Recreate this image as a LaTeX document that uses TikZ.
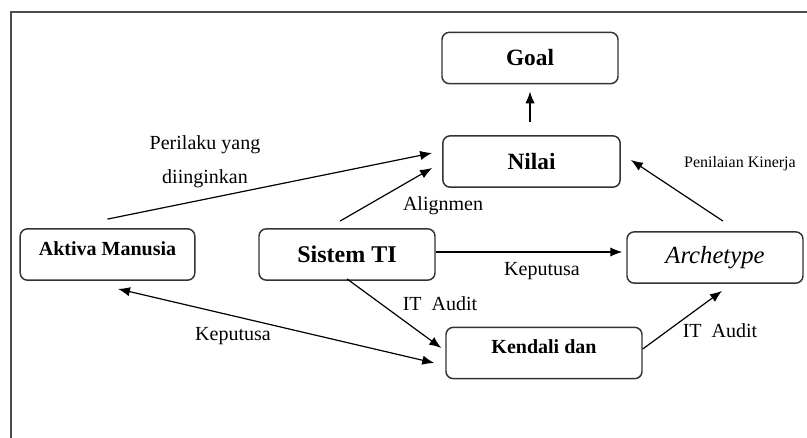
\documentclass[tikz,border=0pt]{standalone}
\usepackage{fontspec}
\setmainfont{Liberation Serif}
\usetikzlibrary{arrows.meta,calc}
\begin{document}
\begin{tikzpicture}[x=0.75pt,y=-0.75pt,
  box/.style={draw=black!80, line width=1.1pt, rounded corners=5.5pt, fill=white,
    minimum width=#1, minimum height=38.5pt, inner sep=0pt, font=\bfseries\fontsize{15}{18}\selectfont},
  box/.default=132pt,
  arr/.style={draw=black, line width=0.9pt, -{Latex[length=9pt,width=7pt]}},
  lbl/.style={font=\fontsize{15}{18}\selectfont, inner sep=0pt}
]
\useasboundingbox (0,0) rectangle (807,438);
\fill[white] (0,0) rectangle (807,438);
\clip (0,0) rectangle (807,438);
\draw[draw=black!70, line width=1.5pt] (11,12) rectangle (840,470);

\node[box=132pt, font=\bfseries\fontsize{17.5}{20}\selectfont] (goal) at (530,58) {Goal};
\node[box=133pt, font=\bfseries\fontsize{17.5}{20}\selectfont] (nilai) at (531.5,161.5) {Nilai};
\node[box=131pt, text depth=9pt] (aktiva) at (107.5,254.5) {Aktiva Manusia};
\node[box=132pt, font=\bfseries\fontsize{18}{21}\selectfont] (sistem) at (347,254.5) {Sistem TI};
\node[box=132pt, font=\itshape\fontsize{18.5}{21}\selectfont] (arch) at (715,257.5) {Archetype};
\node[box=147pt, text depth=10pt] (kendali) at (544,353) {Kendali dan};

% connectors
\draw[arr] ($(aktiva.north)+(0,-9)$) -- ($(nilai.west)+(-10,-8.5)$);
\draw[arr] ($(sistem.north)+(-7,-7)$) -- ($(nilai.west)+(-10,6.5)$);
\draw[arr] ($(nilai.north)+(-1.5,-13)$) -- ($(goal.south)+(0,7)$);
\draw[arr] ($(arch.north)+(8,-10)$) -- ($(nilai.east)+(10,-1.5)$);
\draw[arr] ($(sistem.east)+(0,-2.5)$) -- ($(sistem.east -| arch.west)+(-4,-2.5)$);
\draw[arr] ($(sistem.south)+(0,-2)$) -- ($(kendali.west)+(-4,-5)$);
\draw[draw=black, line width=0.9pt, {Latex[length=9pt,width=7pt]}-{Latex[length=9pt,width=7pt]}]
  ($(aktiva.south)+(10.5,8)$) -- ($(kendali.west)+(-11,10)$);
\draw[arr] ($(kendali.east)+(0,-4)$) -- ($(arch.south)+(7,7)$);

% labels
\node[lbl, align=center, font=\fontsize{15}{25.5}\selectfont] (lperilaku) at (205,162) {Perilaku yang\\diinginkan};
\node[lbl] (lalign) at (443,206) {Alignmen};
\node[lbl, font=\fontsize{12}{14}\selectfont] (lpenilaian) at (740,164) {Penilaian Kinerja};
\node[lbl] (lkep1) at (542,271) {Keputusa};
\node[lbl] (laudit1) at (440,304) {IT\ \ Audit};
\node[lbl] (laudit2) at (720,331) {IT\ \ Audit};
\node[lbl] (lkep2) at (233,336) {Keputusa};
\end{tikzpicture}
\end{document}
